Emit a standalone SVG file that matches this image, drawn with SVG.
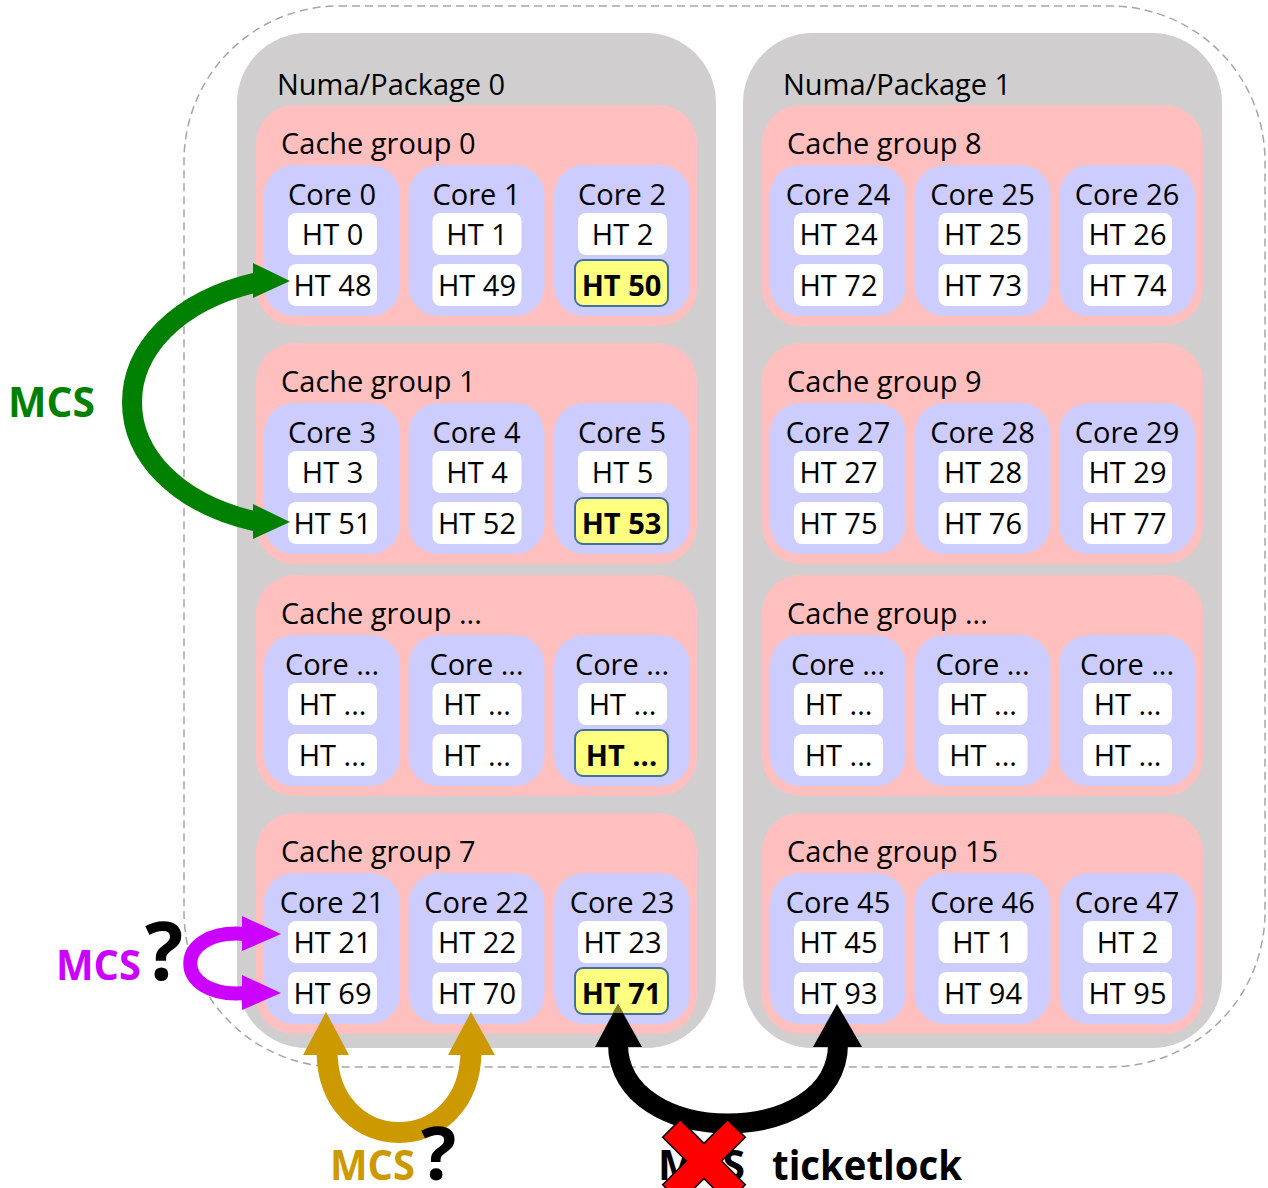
<svg xmlns="http://www.w3.org/2000/svg" width="1268" height="1188" viewBox="0 0 1268 1188">
<style>
.pkg{fill:#D0CECE}
.cg{fill:#FFBFBF}
.core{fill:#CCCCFF}
.ht{fill:#FFFFFF}
.hl{fill:#FFFF80;stroke:#41719C;stroke-width:2}
.t{font-family:'Open Sans','Noto Sans',sans-serif;font-size:29px;fill:#000}
.c{text-anchor:middle}
.b{font-weight:bold}
.lbl{font-family:'Open Sans','Noto Sans',sans-serif;font-weight:bold;font-size:41px}
.q{font-family:'Open Sans','Noto Sans',sans-serif;font-weight:bold;fill:#000}
.dash{fill:none;stroke:#A6A6A6;stroke-width:1.5;stroke-dasharray:8 5}
</style>
<defs>
<g id="xmark"><polygon points="-12.5,-46 12.5,-46 12.5,-12.5 46,-12.5 46,12.5 12.5,12.5 12.5,46 -12.5,46 -12.5,12.5 -46,12.5 -46,-12.5 -12.5,-12.5" fill="#FF0000" stroke="#000" stroke-width="1.5"/></g>
</defs>
<rect id="system" class="dash" x="184" y="6" width="1081" height="1061" rx="155"/>

<g id="package0">
<rect class="pkg" x="237" y="33" width="479" height="1015" rx="70"/>
<text class="t" x="277" y="95">Numa/Package 0</text>

<g id="cg0" transform="translate(256,105)">
<rect class="cg" width="441" height="221" rx="38"/>
<text class="t" x="25" y="49">Cache group 0</text>
<g id="core0" transform="translate(8,60)"><rect class="core" width="136" height="151" rx="30"/><text class="t c" x="68" y="40">Core 0</text>
<g id="ht0"><rect class="ht" x="24" y="48" width="89" height="42" rx="8"/><text class="t c" x="68.5" y="80">HT 0</text></g>
<g id="ht48"><rect class="ht" x="24" y="99" width="89" height="42" rx="8"/><text class="t c" x="68.5" y="131">HT 48</text></g></g>
<g id="core1" transform="translate(152.5,60)"><rect class="core" width="136" height="151" rx="30"/><text class="t c" x="68" y="40">Core 1</text>
<g id="ht1"><rect class="ht" x="24" y="48" width="89" height="42" rx="8"/><text class="t c" x="68.5" y="80">HT 1</text></g>
<g id="ht49"><rect class="ht" x="24" y="99" width="89" height="42" rx="8"/><text class="t c" x="68.5" y="131">HT 49</text></g></g>
<g id="core2" transform="translate(298,60)"><rect class="core" width="136" height="151" rx="30"/><text class="t c" x="68" y="40">Core 2</text>
<g id="ht2"><rect class="ht" x="24" y="48" width="89" height="42" rx="8"/><text class="t c" x="68.5" y="80">HT 2</text></g>
<g id="ht50"><rect class="hl" x="21" y="95" width="93" height="46" rx="8"/><text class="t c b" x="67.5" y="131">HT 50</text></g></g>
</g>

<g id="cg1" transform="translate(256,343)">
<rect class="cg" width="441" height="221" rx="38"/>
<text class="t" x="25" y="49">Cache group 1</text>
<g id="core3" transform="translate(8,60)"><rect class="core" width="136" height="151" rx="30"/><text class="t c" x="68" y="40">Core 3</text>
<g id="ht3"><rect class="ht" x="24" y="48" width="89" height="42" rx="8"/><text class="t c" x="68.5" y="80">HT 3</text></g>
<g id="ht51"><rect class="ht" x="24" y="99" width="89" height="42" rx="8"/><text class="t c" x="68.5" y="131">HT 51</text></g></g>
<g id="core4" transform="translate(152.5,60)"><rect class="core" width="136" height="151" rx="30"/><text class="t c" x="68" y="40">Core 4</text>
<g id="ht4"><rect class="ht" x="24" y="48" width="89" height="42" rx="8"/><text class="t c" x="68.5" y="80">HT 4</text></g>
<g id="ht52"><rect class="ht" x="24" y="99" width="89" height="42" rx="8"/><text class="t c" x="68.5" y="131">HT 52</text></g></g>
<g id="core5" transform="translate(298,60)"><rect class="core" width="136" height="151" rx="30"/><text class="t c" x="68" y="40">Core 5</text>
<g id="ht5"><rect class="ht" x="24" y="48" width="89" height="42" rx="8"/><text class="t c" x="68.5" y="80">HT 5</text></g>
<g id="ht53"><rect class="hl" x="21" y="95" width="93" height="46" rx="8"/><text class="t c b" x="67.5" y="131">HT 53</text></g></g>
</g>

<g id="cg-l-etc" transform="translate(256,575)">
<rect class="cg" width="441" height="221" rx="38"/>
<text class="t" x="25" y="49">Cache group ...</text>
<g id="core-l-etc-a" transform="translate(8,60)"><rect class="core" width="136" height="151" rx="30"/><text class="t c" x="68" y="40">Core ...</text>
<g id="ht-l-etc-a1"><rect class="ht" x="24" y="48" width="89" height="42" rx="8"/><text class="t c" x="68.5" y="80">HT ...</text></g>
<g id="ht-l-etc-a2"><rect class="ht" x="24" y="99" width="89" height="42" rx="8"/><text class="t c" x="68.5" y="131">HT ...</text></g></g>
<g id="core-l-etc-b" transform="translate(152.5,60)"><rect class="core" width="136" height="151" rx="30"/><text class="t c" x="68" y="40">Core ...</text>
<g id="ht-l-etc-b1"><rect class="ht" x="24" y="48" width="89" height="42" rx="8"/><text class="t c" x="68.5" y="80">HT ...</text></g>
<g id="ht-l-etc-b2"><rect class="ht" x="24" y="99" width="89" height="42" rx="8"/><text class="t c" x="68.5" y="131">HT ...</text></g></g>
<g id="core-l-etc-c" transform="translate(298,60)"><rect class="core" width="136" height="151" rx="30"/><text class="t c" x="68" y="40">Core ...</text>
<g id="ht-l-etc-c1"><rect class="ht" x="24" y="48" width="89" height="42" rx="8"/><text class="t c" x="68.5" y="80">HT ...</text></g>
<g id="ht-l-etc-c2"><rect class="hl" x="21" y="95" width="93" height="46" rx="8"/><text class="t c b" x="67.5" y="131">HT ...</text></g></g>
</g>

<g id="cg7" transform="translate(256,813)">
<rect class="cg" width="441" height="221" rx="38"/>
<text class="t" x="25" y="49">Cache group 7</text>
<g id="core21" transform="translate(8,60)"><rect class="core" width="136" height="151" rx="30"/><text class="t c" x="68" y="40">Core 21</text>
<g id="ht21"><rect class="ht" x="24" y="48" width="89" height="42" rx="8"/><text class="t c" x="68.5" y="80">HT 21</text></g>
<g id="ht69"><rect class="ht" x="24" y="99" width="89" height="42" rx="8"/><text class="t c" x="68.5" y="131">HT 69</text></g></g>
<g id="core22" transform="translate(152.5,60)"><rect class="core" width="136" height="151" rx="30"/><text class="t c" x="68" y="40">Core 22</text>
<g id="ht22"><rect class="ht" x="24" y="48" width="89" height="42" rx="8"/><text class="t c" x="68.5" y="80">HT 22</text></g>
<g id="ht70"><rect class="ht" x="24" y="99" width="89" height="42" rx="8"/><text class="t c" x="68.5" y="131">HT 70</text></g></g>
<g id="core23" transform="translate(298,60)"><rect class="core" width="136" height="151" rx="30"/><text class="t c" x="68" y="40">Core 23</text>
<g id="ht23"><rect class="ht" x="24" y="48" width="89" height="42" rx="8"/><text class="t c" x="68.5" y="80">HT 23</text></g>
<g id="ht71"><rect class="hl" x="21" y="95" width="93" height="46" rx="8"/><text class="t c b" x="67.5" y="131">HT 71</text></g></g>
</g>
</g>

<g id="package1">
<rect class="pkg" x="743" y="33" width="479" height="1015" rx="70"/>
<text class="t" x="783" y="95">Numa/Package 1</text>

<g id="cg8" transform="translate(762,105)">
<rect class="cg" width="441" height="221" rx="38"/>
<text class="t" x="25" y="49">Cache group 8</text>
<g id="core24" transform="translate(8,60)"><rect class="core" width="136" height="151" rx="30"/><text class="t c" x="68" y="40">Core 24</text>
<g id="ht24"><rect class="ht" x="24" y="48" width="89" height="42" rx="8"/><text class="t c" x="68.5" y="80">HT 24</text></g>
<g id="ht72"><rect class="ht" x="24" y="99" width="89" height="42" rx="8"/><text class="t c" x="68.5" y="131">HT 72</text></g></g>
<g id="core25" transform="translate(152.5,60)"><rect class="core" width="136" height="151" rx="30"/><text class="t c" x="68" y="40">Core 25</text>
<g id="ht25"><rect class="ht" x="24" y="48" width="89" height="42" rx="8"/><text class="t c" x="68.5" y="80">HT 25</text></g>
<g id="ht73"><rect class="ht" x="24" y="99" width="89" height="42" rx="8"/><text class="t c" x="68.5" y="131">HT 73</text></g></g>
<g id="core26" transform="translate(297,60)"><rect class="core" width="136" height="151" rx="30"/><text class="t c" x="68" y="40">Core 26</text>
<g id="ht26"><rect class="ht" x="24" y="48" width="89" height="42" rx="8"/><text class="t c" x="68.5" y="80">HT 26</text></g>
<g id="ht74"><rect class="ht" x="24" y="99" width="89" height="42" rx="8"/><text class="t c" x="68.5" y="131">HT 74</text></g></g>
</g>

<g id="cg9" transform="translate(762,343)">
<rect class="cg" width="441" height="221" rx="38"/>
<text class="t" x="25" y="49">Cache group 9</text>
<g id="core27" transform="translate(8,60)"><rect class="core" width="136" height="151" rx="30"/><text class="t c" x="68" y="40">Core 27</text>
<g id="ht27"><rect class="ht" x="24" y="48" width="89" height="42" rx="8"/><text class="t c" x="68.5" y="80">HT 27</text></g>
<g id="ht75"><rect class="ht" x="24" y="99" width="89" height="42" rx="8"/><text class="t c" x="68.5" y="131">HT 75</text></g></g>
<g id="core28" transform="translate(152.5,60)"><rect class="core" width="136" height="151" rx="30"/><text class="t c" x="68" y="40">Core 28</text>
<g id="ht28"><rect class="ht" x="24" y="48" width="89" height="42" rx="8"/><text class="t c" x="68.5" y="80">HT 28</text></g>
<g id="ht76"><rect class="ht" x="24" y="99" width="89" height="42" rx="8"/><text class="t c" x="68.5" y="131">HT 76</text></g></g>
<g id="core29" transform="translate(297,60)"><rect class="core" width="136" height="151" rx="30"/><text class="t c" x="68" y="40">Core 29</text>
<g id="ht29"><rect class="ht" x="24" y="48" width="89" height="42" rx="8"/><text class="t c" x="68.5" y="80">HT 29</text></g>
<g id="ht77"><rect class="ht" x="24" y="99" width="89" height="42" rx="8"/><text class="t c" x="68.5" y="131">HT 77</text></g></g>
</g>

<g id="cg-r-etc" transform="translate(762,575)">
<rect class="cg" width="441" height="221" rx="38"/>
<text class="t" x="25" y="49">Cache group ...</text>
<g id="core-r-etc-a" transform="translate(8,60)"><rect class="core" width="136" height="151" rx="30"/><text class="t c" x="68" y="40">Core ...</text>
<g id="ht-r-etc-a1"><rect class="ht" x="24" y="48" width="89" height="42" rx="8"/><text class="t c" x="68.5" y="80">HT ...</text></g>
<g id="ht-r-etc-a2"><rect class="ht" x="24" y="99" width="89" height="42" rx="8"/><text class="t c" x="68.5" y="131">HT ...</text></g></g>
<g id="core-r-etc-b" transform="translate(152.5,60)"><rect class="core" width="136" height="151" rx="30"/><text class="t c" x="68" y="40">Core ...</text>
<g id="ht-r-etc-b1"><rect class="ht" x="24" y="48" width="89" height="42" rx="8"/><text class="t c" x="68.5" y="80">HT ...</text></g>
<g id="ht-r-etc-b2"><rect class="ht" x="24" y="99" width="89" height="42" rx="8"/><text class="t c" x="68.5" y="131">HT ...</text></g></g>
<g id="core-r-etc-c" transform="translate(297,60)"><rect class="core" width="136" height="151" rx="30"/><text class="t c" x="68" y="40">Core ...</text>
<g id="ht-r-etc-c1"><rect class="ht" x="24" y="48" width="89" height="42" rx="8"/><text class="t c" x="68.5" y="80">HT ...</text></g>
<g id="ht-r-etc-c2"><rect class="ht" x="24" y="99" width="89" height="42" rx="8"/><text class="t c" x="68.5" y="131">HT ...</text></g></g>
</g>

<g id="cg15" transform="translate(762,813)">
<rect class="cg" width="441" height="221" rx="38"/>
<text class="t" x="25" y="49">Cache group 15</text>
<g id="core45" transform="translate(8,60)"><rect class="core" width="136" height="151" rx="30"/><text class="t c" x="68" y="40">Core 45</text>
<g id="ht45"><rect class="ht" x="24" y="48" width="89" height="42" rx="8"/><text class="t c" x="68.5" y="80">HT 45</text></g>
<g id="ht93"><rect class="ht" x="24" y="99" width="89" height="42" rx="8"/><text class="t c" x="68.5" y="131">HT 93</text></g></g>
<g id="core46" transform="translate(152.5,60)"><rect class="core" width="136" height="151" rx="30"/><text class="t c" x="68" y="40">Core 46</text>
<g id="core46-ht-a"><rect class="ht" x="24" y="48" width="89" height="42" rx="8"/><text class="t c" x="68.5" y="80">HT 1</text></g>
<g id="ht94"><rect class="ht" x="24" y="99" width="89" height="42" rx="8"/><text class="t c" x="68.5" y="131">HT 94</text></g></g>
<g id="core47" transform="translate(297,60)"><rect class="core" width="136" height="151" rx="30"/><text class="t c" x="68" y="40">Core 47</text>
<g id="core47-ht-a"><rect class="ht" x="24" y="48" width="89" height="42" rx="8"/><text class="t c" x="68.5" y="80">HT 2</text></g>
<g id="ht95"><rect class="ht" x="24" y="99" width="89" height="42" rx="8"/><text class="t c" x="68.5" y="131">HT 95</text></g></g>
</g>
</g>

<g id="connectors">
<g id="mcs-green">
<path d="M 258 282 C 90 320, 90 485, 258 522" fill="none" stroke="#008000" stroke-width="20"/>
<polygon points="290,281 253,263 253,298" fill="#008000"/>
<polygon points="290,522 253,504 253,539" fill="#008000"/>
</g>
<g id="mcs-magenta">
<path d="M 245 934 C 172 928, 172 999, 245 993" fill="none" stroke="#CC00FF" stroke-width="14"/>
<polygon points="281,934 242,916 242,951" fill="#CC00FF"/>
<polygon points="281,993 242,975 242,1010" fill="#CC00FF"/>
</g>
<g id="mcs-gold">
<path d="M 327 1050 C 327 1160, 471 1160, 471 1050" fill="none" stroke="#CC9900" stroke-width="21"/>
<polygon points="326,1012 303,1055 349,1055" fill="#CC9900"/>
<polygon points="471,1012 448,1055 495,1055" fill="#CC9900"/>
</g>
<g id="ticket-black">
<path d="M 618 1044 C 618 1150, 838 1150, 838 1044" fill="none" stroke="#000" stroke-width="20"/>
<polygon points="618,1004 595,1047 642,1047" fill="#000"/>
<polygon points="618,1004 612.7,1013 623.3,1013" fill="#7F7F20"/>
<polygon points="837,1004 813,1047 862,1047" fill="#000"/>
</g>
</g>

<g id="labels">
<text class="lbl" x="8" y="417" fill="#008000" textLength="87" lengthAdjust="spacingAndGlyphs">MCS</text>
<text class="lbl" x="56" y="980" fill="#CC00FF" textLength="85" lengthAdjust="spacingAndGlyphs">MCS</text>
<text class="q" x="145" y="980" font-size="80">?</text>
<text class="lbl" x="330" y="1180" fill="#CC9900" textLength="85" lengthAdjust="spacingAndGlyphs">MCS</text>
<text class="q" x="421" y="1180" font-size="74">?</text>
<text class="lbl" x="658" y="1180" fill="#000" textLength="87" lengthAdjust="spacingAndGlyphs">MCS</text>
<use href="#xmark" transform="translate(704,1161) rotate(45)"/>
<text class="lbl" x="772" y="1180" fill="#000" textLength="190" lengthAdjust="spacingAndGlyphs">ticketlock</text>
</g>
</svg>
